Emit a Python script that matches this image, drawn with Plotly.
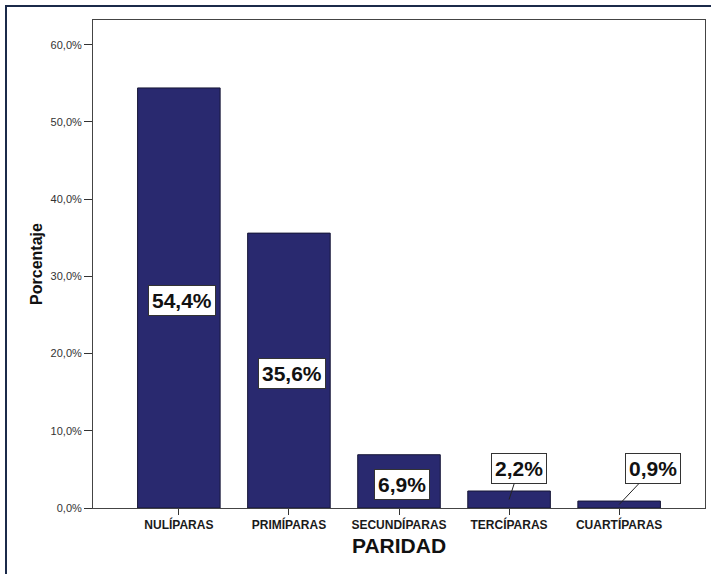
import plotly.graph_objects as go

# Paridad: porcentaje de pacientes por categoría
categorias = ["NULÍPARAS", "PRIMÍPARAS", "SECUNDÍPARAS", "TERCÍPARAS", "CUARTÍPARAS"]
porcentajes = [54.4, 35.6, 6.9, 2.2, 0.9]
etiquetas = ["54,4%", "35,6%", "6,9%", "2,2%", "0,9%"]
ticks_y = [0, 10, 20, 30, 40, 50, 60]
ticks_y_texto = ["0,0%", "10,0%", "20,0%", "30,0%", "40,0%", "50,0%", "60,0%"]

W, H = 711, 574
L, R, T, B = 93, 6, 20, 66

BAR = "#29296f"
BAR_LINE = "#161636"
FONT = "Liberation Sans, Arial, sans-serif"

fig = go.Figure(
    go.Bar(
        x=list(range(len(categorias))),
        y=porcentajes,
        width=0.75,
        marker=dict(color=BAR, line=dict(color=BAR_LINE, width=1)),
        hoverinfo="skip",
    )
)

# value labels: inside the tall bars, callouts with leader lines on the short ones
annotations = []
for i, (v, txt) in enumerate(zip(porcentajes, etiquetas)):
    common = dict(
        text="<b>%s</b>" % txt,
        font=dict(family=FONT, size=21, color="#111111"),
        bgcolor="white",
        bordercolor="#333333",
        borderwidth=1,
        borderpad=3,
        xref="x",
        yref="y",
    )
    if v > 5:
        annotations.append(dict(x=i + 0.03, y=v / 2, yshift=-3, showarrow=False, **common))
    else:
        dx = 10 if i == 3 else 34
        dy = -31 if i == 3 else -36
        annotations.append(
            dict(
                x=i,
                y=v / 2,
                showarrow=True,
                arrowhead=0,
                arrowwidth=1,
                arrowcolor="#222222",
                ax=dx,
                ay=dy,
                **common,
            )
        )

# outer frame (top and left edges of the chart container)
px_x = lambda p: (p - L) / (W - L - R)
px_y = lambda p: (H - B - p) / (H - B - T)
frame = dict(color="#1b2a4a", width=2)
shapes = [
    dict(type="line", xref="paper", yref="paper", x0=px_x(5), x1=px_x(711), y0=px_y(6), y1=px_y(6), line=frame),
    dict(type="line", xref="paper", yref="paper", x0=px_x(6), x1=px_x(6), y0=px_y(5), y1=px_y(574), line=frame),
]

fig.update_layout(
    width=W,
    height=H,
    margin=dict(l=L, r=R, t=T, b=B),
    paper_bgcolor="white",
    plot_bgcolor="white",
    showlegend=False,
    bargap=0.25,
    annotations=annotations,
    shapes=shapes,
    xaxis=dict(
        range=[-0.78, 4.78],
        tickmode="array",
        tickvals=list(range(len(categorias))),
        ticktext=["<b>%s</b>" % c for c in categorias],
        tickfont=dict(family=FONT, size=12, color="#1a1a1a"),
        ticks="outside",
        ticklen=6,
        tickcolor="#333333",
        showline=True,
        linecolor="#444444",
        linewidth=1,
        mirror=True,
        showgrid=False,
        zeroline=False,
        title=dict(
            text="<b>PARIDAD</b>",
            font=dict(family=FONT, size=21, color="#111111"),
            standoff=6,
        ),
    ),
    yaxis=dict(
        range=[0, 63.2],
        tickmode="array",
        tickvals=ticks_y,
        ticktext=ticks_y_texto,
        tickfont=dict(family=FONT, size=11, color="#333333"),
        ticks="outside",
        ticklen=8,
        tickcolor="#333333",
        showline=True,
        linecolor="#444444",
        linewidth=1,
        mirror=True,
        showgrid=False,
        zeroline=False,
        title=dict(
            text="<b>Porcentaje</b>",
            font=dict(family=FONT, size=16, color="#111111"),
            standoff=3,
        ),
    ),
)

fig.write_html("out.html")
